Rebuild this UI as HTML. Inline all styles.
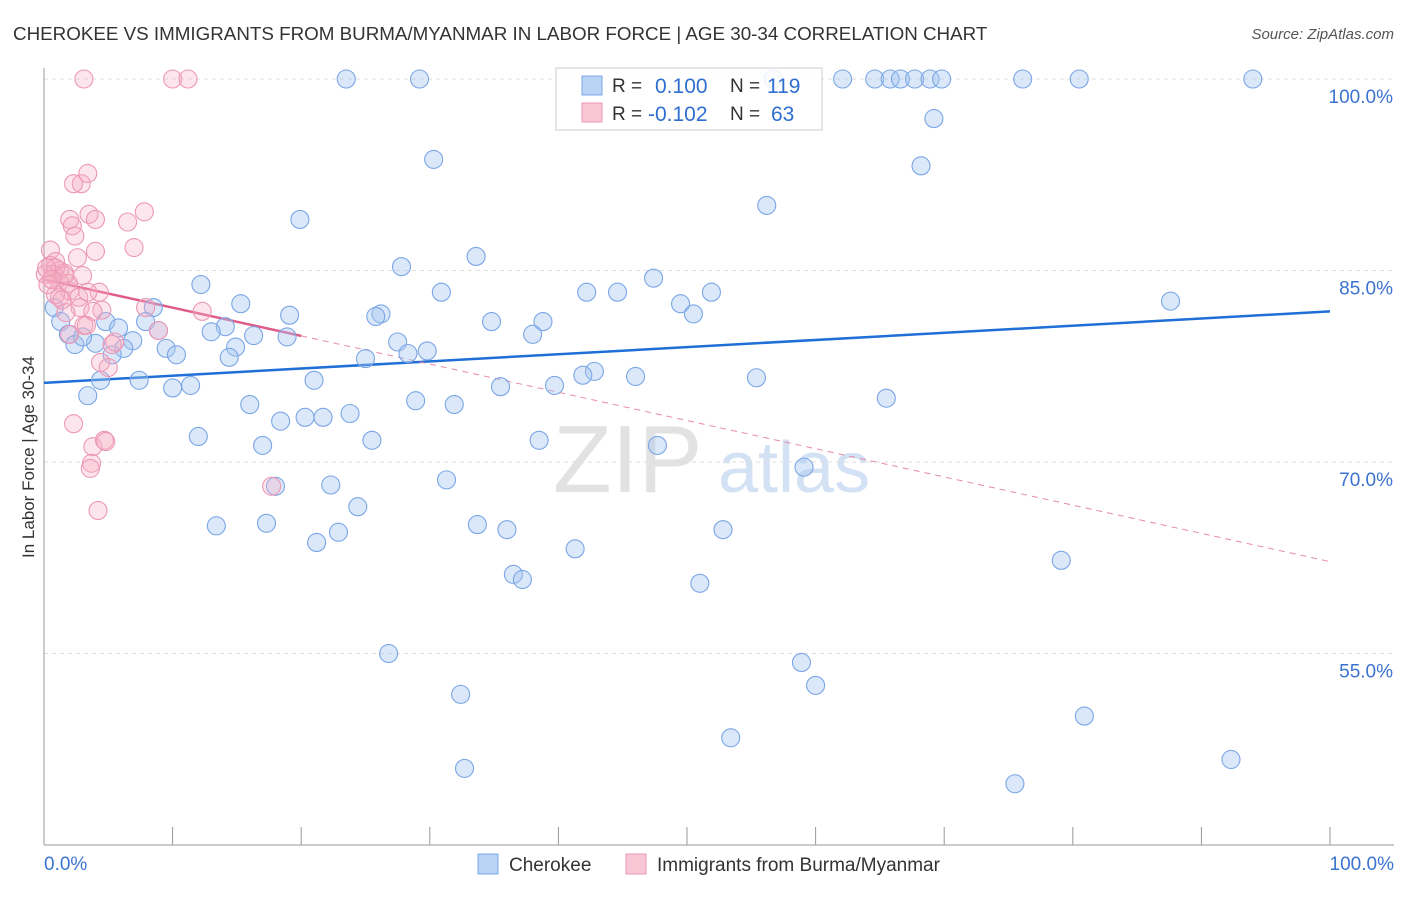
<!DOCTYPE html>
<html><head><meta charset="utf-8"><style>
body{margin:0;background:#fff;font-family:"Liberation Sans",sans-serif;}
svg text{font-family:"Liberation Sans",sans-serif;}
</style></head><body>
<svg id="chart" width="1406" height="892" xmlns="http://www.w3.org/2000/svg">
<text x="13" y="40" font-size="18.8" fill="#333">CHEROKEE VS IMMIGRANTS FROM BURMA/MYANMAR IN LABOR FORCE | AGE 30-34 CORRELATION CHART</text>
<text x="1394" y="39" font-size="15" fill="#555" text-anchor="end" font-style="italic">Source: ZipAtlas.com</text>
<text transform="translate(34,457) rotate(-90)" font-size="17" fill="#333" text-anchor="middle">In Labor Force | Age 30-34</text>
<g><text x="553" y="492" font-size="96" fill="#e2e2e2" font-family="Liberation Serif">ZIP</text><text x="718" y="492" font-size="72" fill="#d3e1f4">atlas</text></g>
<g id="grid"></g><g id="axes"></g><g id="trend"></g><g id="pts"></g>
<g>
<rect x="556" y="68" width="266" height="62" fill="rgba(255,255,255,0.85)" stroke="#ccc"/>
<rect x="582" y="76" width="20" height="19" fill="#b9d3f5" stroke="#7aa6e6"/>
<rect x="582" y="103" width="20" height="19" fill="#f9c6d6" stroke="#ec9ab5"/>
<text x="612" y="92" font-size="19" fill="#333">R =</text><text x="655" y="93" font-size="21" fill="#2f6fcf">0.100</text>
<text x="730" y="92" font-size="19" fill="#333">N =</text><text x="767" y="93" font-size="21" fill="#2f6fcf">119</text>
<text x="612" y="120" font-size="19" fill="#333">R =</text><text x="648" y="121" font-size="21" fill="#2f6fcf">-0.102</text>
<text x="730" y="120" font-size="19" fill="#333">N =</text><text x="771" y="121" font-size="21" fill="#2f6fcf">63</text>
</g>
<g>
<rect x="478" y="854" width="20" height="20" fill="#b9d3f5" stroke="#7aa6e6"/><text x="509" y="871" font-size="19" fill="#333">Cherokee</text>
<rect x="626" y="854" width="20" height="20" fill="#f9c6d6" stroke="#ec9ab5"/><text x="657" y="871" font-size="19" fill="#333">Immigrants from Burma/Myanmar</text>
</g>
</svg>
<script>
const blueX=[23.5,29.2,62.1,64.6,65.8,66.6,67.7,68.9,69.8,76.1,80.5,94.0,56.7,69.2,30.3,68.2,56.2,19.9,33.6,27.8,47.4,12.2,30.9,42.2,44.6,51.9,87.6,0.8,15.3,8.5,49.5,50.5,34.8,38.8,19.1,26.2,25.8,7.9,1.3,4.8,5.8,8.9,14.1,13.0,38.0,27.5,18.9,16.3,1.9,2.4,6.9,9.5,14.9,29.8,28.3,6.2,5.3,10.3,14.4,25.0,4.0,3.0,42.8,41.9,46.0,55.4,4.4,7.4,21.0,10.0,11.4,35.5,39.7,3.4,65.5,16.0,28.9,31.9,23.8,20.3,21.7,18.4,12.0,25.5,38.5,17.0,47.7,59.1,31.3,22.3,18.0,24.4,13.4,17.3,33.7,36.0,52.8,22.9,21.2,41.3,79.1,36.5,37.2,51.0,26.8,58.9,60.0,32.4,80.9,53.4,32.7,92.3,75.5];
const blueY=[100,100,100,100,100,100,100,100,100,100,100,100,100,96.9,93.7,93.2,90.1,89.0,86.1,85.3,84.4,83.9,83.3,83.3,83.3,83.3,82.6,82.1,82.4,82.1,82.4,81.6,81.0,81.0,81.5,81.6,81.4,81.0,81.0,81.0,80.5,80.3,80.6,80.2,80.0,79.4,79.8,79.9,80.0,79.2,79.5,78.9,79.0,78.7,78.5,78.9,78.4,78.4,78.2,78.1,79.3,79.8,77.1,76.8,76.7,76.6,76.4,76.4,76.4,75.8,76.0,75.9,76.0,75.2,75.0,74.5,74.8,74.5,73.8,73.5,73.5,73.2,72.0,71.7,71.7,71.3,71.3,69.6,68.6,68.2,68.1,66.5,65.0,65.2,65.1,64.7,64.7,64.5,63.7,63.2,62.3,61.2,60.8,60.5,55.0,54.3,52.5,51.8,50.1,48.4,46.0,46.7,44.8];
const pinkX=[3.1,10.0,11.2,2.9,2.3,3.4,6.5,7.8,3.5,4.0,2.0,2.2,2.4,7.0,4.0,0.5,2.6,0.5,0.9,1.2,1.6,0.7,0.1,1.2,1.9,3.0,2.0,4.3,1.2,2.7,3.4,2.8,4.5,7.9,12.3,3.8,1.7,3.1,3.3,8.9,2.0,5.3,4.4,5.0,2.3,3.8,4.7,4.8,3.7,3.6,17.7,4.2,0.9,1.4,0.3,0.9,1.6,0.2,0.6,5.5];
const pinkY=[100,100,100,91.8,91.8,92.6,88.8,89.6,89.4,89.0,89.0,88.5,87.7,86.8,86.5,86.6,86.0,85.4,85.7,85.0,84.8,84.7,84.7,84.1,84.0,84.6,83.4,83.3,82.9,82.9,83.3,82.1,81.9,82.1,81.8,81.8,81.7,80.7,80.7,80.3,80.0,79.2,77.8,77.4,73.0,71.2,71.7,71.6,69.9,69.5,68.1,66.2,83.1,82.7,83.9,85.2,84.6,85.2,84.3,79.4];
const blueTrend=[76.2,81.8];     // y at x=0, x=100
const pinkTrend=[84.3,62.2];     // y at x=0, x=100 (solid until x=20)
const yTicks=[100,85,70,55];
const yTickLabels=["100.0%","85.0%","70.0%","55.0%"];
const xTicks=[0,10,20,30,40,50,60,70,80,90,100];

const NS="http://www.w3.org/2000/svg";
const X=v=>44+v*12.86;
const Y=v=>79+(100-v)*12.767;
function mk(tag,attrs,parent){const e=document.createElementNS(NS,tag);for(const k in attrs)e.setAttribute(k,attrs[k]);document.getElementById(parent).appendChild(e);return e;}

yTicks.forEach((t,i)=>{
  const g=mk('line',{x1:44,x2:1394,y1:Y(t),y2:Y(t),stroke:'#ddd','stroke-dasharray':'4,4'},'grid');
  
  
  const tx=mk('text',{x:1393,y:Y(t)+24,'font-size':19,fill:'#3b73d0','text-anchor':'end'},'grid');
  tx.textContent=yTickLabels[i];
  
  
});
const ax=mk('line',{x1:44,x2:44,y1:68,y2:845,stroke:'#999'},'axes');


const bx=mk('line',{x1:44,x2:1394,y1:845,y2:845,stroke:'#999'},'axes');


xTicks.forEach(t=>{
  const l=mk('line',{x1:X(t),x2:X(t),y1:827,y2:845,stroke:'#999'},'axes');
  
  
});
const xl0=mk('text',{x:44,y:870,'font-size':19,fill:'#3b73d0'},'axes');xl0.textContent='0.0%';


const xl1=mk('text',{x:1394,y:870,'font-size':19,fill:'#3b73d0','text-anchor':'end'},'axes');xl1.textContent='100.0%';



blueX.forEach((x,i)=>{
  const c=mk('circle',{cx:X(x),cy:Y(blueY[i]),r:9,fill:'rgba(165,198,240,0.4)',stroke:'#7aa6e6','stroke-width':1.1},'pts');
  
  
});
pinkX.forEach((x,i)=>{
  const c=mk('circle',{cx:X(x),cy:Y(pinkY[i]),r:9,fill:'rgba(246,175,198,0.33)',stroke:'#ec98b4','stroke-width':1.1},'pts');
  
  
});
const pAt=x=>pinkTrend[0]+(pinkTrend[1]-pinkTrend[0])*x/100;
const bt=mk('line',{x1:X(0),y1:Y(blueTrend[0]),x2:X(100),y2:Y(blueTrend[1]),stroke:'#1f6fd6','stroke-width':2.5},'trend');


const pd=mk('line',{x1:X(20),y1:Y(pAt(20)),x2:X(100),y2:Y(pAt(100)),stroke:'#e88aa8','stroke-width':1,'stroke-dasharray':'6,5'},'trend');


const ps=mk('line',{x1:X(0),y1:Y(pAt(0)),x2:X(20),y2:Y(pAt(20)),stroke:'#e05a8a','stroke-width':2.5},'trend');


</script>
</body></html>
